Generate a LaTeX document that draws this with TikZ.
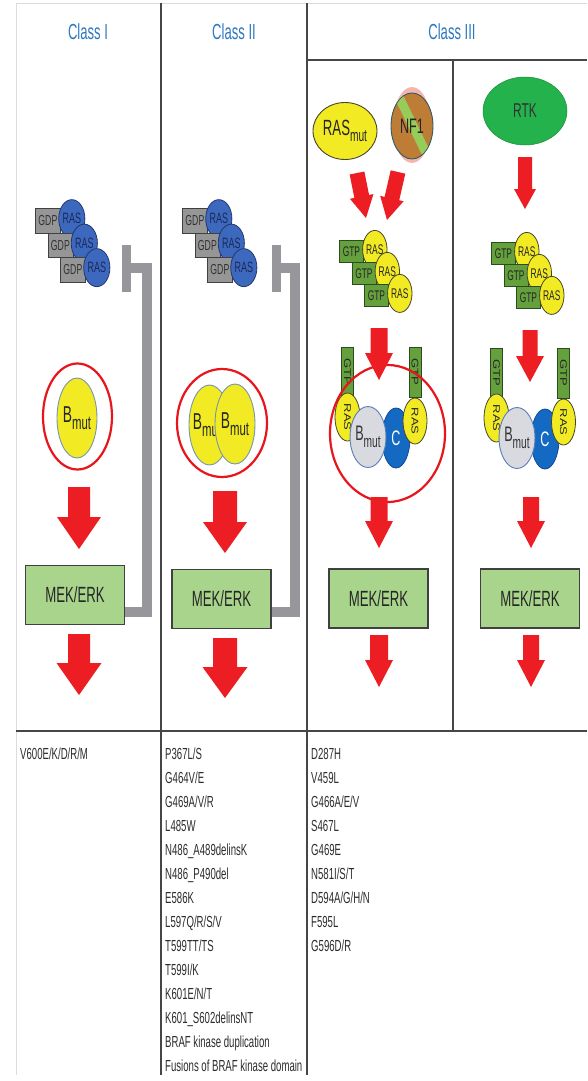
\documentclass[tikz,border=0pt]{standalone}
\usepackage{graphicx}
\usepackage{fontspec}
\setmainfont{Liberation Sans}[FakeStretch=0.6]
\newfontfamily\plainsf{Liberation Sans}
\usetikzlibrary{shapes.geometric,calc}

\definecolor{headblue}{RGB}{45,120,190}
\definecolor{linedark}{RGB}{70,70,70}
\definecolor{faintline}{RGB}{220,220,220}
\definecolor{gdpgray}{RGB}{150,150,150}
\definecolor{rasblue}{RGB}{60,105,190}
\definecolor{rasblueline}{RGB}{35,55,110}
\definecolor{rasbluetext}{RGB}{30,40,90}
\definecolor{gtpgreen}{RGB}{100,160,60}
\definecolor{gtpline}{RGB}{45,75,30}
\definecolor{rasyellow}{RGB}{242,234,35}
\definecolor{yline}{RGB}{70,70,45}
\definecolor{bmutline}{RGB}{120,150,170}
\definecolor{mekgreen}{RGB}{168,212,140}
\definecolor{arrowred}{RGB}{236,30,36}
\definecolor{ringred}{RGB}{232,22,28}
\definecolor{bargray}{RGB}{150,150,155}
\definecolor{bgray}{RGB}{216,218,224}
\definecolor{bgrayline}{RGB}{90,125,185}
\definecolor{cblue}{RGB}{20,105,195}
\definecolor{cline}{RGB}{15,75,150}
\definecolor{rtkgreen}{RGB}{35,178,75}
\definecolor{nfbrown}{RGB}{190,125,55}
\definecolor{nfline}{RGB}{50,90,100}
\definecolor{nfgreen}{RGB}{150,205,90}
\definecolor{nfhalo}{RGB}{240,150,140}
\definecolor{mutgray}{RGB}{45,45,45}

\newcommand\fs[1]{\fontsize{#1}{#1}\selectfont}
\newcommand\bmutlabel[2]{\fs{#1}B\raisebox{-0.32em}{\fs{#2}mut}}
\newcommand\vtext[1]{\scalebox{0.75}[1]{\rotatebox{-90}{\plainsf\fs{13}#1}}}

% block arrow between two named coordinates:
% #1 from, #2 to, #3 shaft half width, #4 head half width, #5 head length
\newcommand\fatarrow[5]{%
  \coordinate (fah) at ($(#2)!#5pt!(#1)$);
  \fill[arrowred] ($(#1)!#3pt!90:(#2)$) -- ($(fah)!#3pt!90:(#2)$)
    -- ($(fah)!#4pt!90:(#2)$) -- (#2) -- ($(fah)!#4pt!-90:(#2)$)
    -- ($(fah)!#3pt!-90:(#2)$) -- ($(#1)!#3pt!-90:(#2)$) -- cycle;}

% staircase of three nucleotide boxes, each with a RAS oval
% #1 name, #2 x, #3 y, #4 box style, #5 oval style, #6 box label, #7 dx, #8 dy
\newcommand\rasstack[8]{%
  \foreach \i in {0,1,2}{%
    \node[#4, anchor=north west] (#1b\i) at ({#2+#7*\i},{#3+#8*\i}) {#6};
    \node[#5] (#1r\i) at ($(#1b\i.east)+(11,-2)$) {RAS};
  }}

\begin{document}
\begin{tikzpicture}[x=1pt,y=-1pt,
  head/.style={text=headblue, font=\fs{21.8}, inner sep=0pt},
  rule/.style={draw=linedark, line width=1.1pt},
  faint/.style={draw=faintline, line width=0.8pt},
  gdp/.style={rectangle, draw=black!75, line width=0.8pt, fill=gdpgray,
    minimum width=25pt, minimum height=24.5pt, inner sep=0pt,
    font=\fs{14.5}, text=black!80},
  rasb/.style={ellipse, draw=rasblueline, line width=0.8pt, fill=rasblue,
    minimum width=24pt, minimum height=38pt, inner sep=0pt,
    font=\fs{15}, text=rasbluetext},
  gtp/.style={gdp, fill=gtpgreen, draw=gtpline, minimum width=24pt,
    minimum height=22pt, text=black!85, font=\fs{14}},
  rasy/.style={rasb, fill=rasyellow, draw=yline, minimum width=22pt,
    minimum height=38pt, text=black!85, font=\fs{14}},
  gtpv/.style={rectangle, draw=gtpline, line width=0.8pt, fill=gtpgreen,
    minimum width=12pt, minimum height=50pt, inner sep=0pt, text=black!85},
  rasv/.style={ellipse, draw=yline, line width=0.8pt, fill=rasyellow,
    minimum width=25pt, minimum height=48pt, inner sep=0pt, text=black!85},
  bmut/.style={ellipse, draw=bmutline, line width=0.9pt, fill=rasyellow,
    inner sep=0pt, text=black!85},
  bgr/.style={ellipse, draw=bgrayline, line width=0.9pt, fill=bgray,
    minimum width=31pt, minimum height=61pt, inner sep=0pt, text=black!80},
  cnode/.style={ellipse, draw=cline, line width=0.8pt, fill=cblue,
    minimum width=28pt, minimum height=60pt, inner sep=0pt,
    text=white, font=\fs{21}},
  ring/.style={ellipse, draw=ringred, line width=2.2pt, inner sep=0pt},
  mek/.style={rectangle, draw=black!75, line width=1.3pt, fill=mekgreen,
    minimum width=99pt, minimum height=59pt, font=\fs{22}, text=black!85},
  inhib/.style={draw=bargray, line width=10pt},
  mut/.style={anchor=base west, inner sep=0pt, font=\fs{16}, text=mutgray}]

\useasboundingbox (0,0) rectangle (587,1081);
\fill[white] (0,0) rectangle (587,1081);

% table frame
\draw[faint] (16,3) -- (587,3);
\draw[faint] (16,3) -- (16,1075);
\draw[rule] (161,3) -- (161,1075);
\draw[rule] (307,3) -- (307,1075);
\draw[rule] (307,60) -- (587,60);
\draw[rule] (453,60) -- (453,731);
\draw[rule, line width=1.5pt] (16,731) -- (587,731);

% column headings
\node[head] (h1) at (88,32) {Class I};
\node[head] (h2) at (234,32) {Class II};
\node[head] (h3) at (452,32) {Class III};

% ---------- Class I ----------
\rasstack{s1}{35}{208}{gdp}{rasb}{GDP}{12.5}{24.5}
\node[bmut, minimum width=40pt, minimum height=80pt] (bm1) at (77,418) {\bmutlabel{23}{19}};
\node[ring, minimum width=69pt, minimum height=106pt] (ring1) at (77.5,416.5) {};
\node[mek] (mek1) at (75,595) {MEK/ERK};
\coordinate (a1s) at (79,487); \coordinate (a1e) at (79,549);
\fatarrow{a1s}{a1e}{11}{22}{32}
\coordinate (a2s) at (79,634); \coordinate (a2e) at (79,695);
\fatarrow{a2s}{a2e}{11}{22.5}{32}
\coordinate (inh1) at (126.5,268);
\draw[inhib] ([yshift=-17pt]mek1.east) -| (147,268) -- (inh1);
\draw[inhib, line width=9pt] (126.5,245) -- (126.5,292);

% ---------- Class II (dimer: the front oval hides part of the rear label) ----------
\rasstack{s2}{182}{208}{gdp}{rasb}{GDP}{12.5}{24.5}
\node[bmut, minimum width=41pt, minimum height=80pt] (bm2a) at (209.5,425) {};
\node[inner sep=0pt, text=black!85] (bm2at) at (207,425) {\bmutlabel{23}{19}};
\node[bmut, minimum width=40pt, minimum height=80pt] (bm2b) at (235,424) {\bmutlabel{23}{19}};
\node[ring, minimum width=90pt, minimum height=108pt] (ring2) at (222,423) {};
\node[mek] (mek2) at (221.5,599) {MEK/ERK};
\coordinate (b1s) at (225,491); \coordinate (b1e) at (225,553);
\fatarrow{b1s}{b1e}{12}{22}{31}
\coordinate (b2s) at (225,638); \coordinate (b2e) at (225,698);
\fatarrow{b2s}{b2e}{12}{22.5}{31}
\coordinate (inh2) at (276.5,268);
\draw[inhib] ([yshift=-13pt]mek2.east) -| (295,268) -- (inh2);
\draw[inhib, line width=9pt] (276.5,245) -- (276.5,292);

% ---------- Class III, mutant RAS / NF1 loss ----------
\node[ellipse, draw=yline, line width=0.9pt, fill=rasyellow, minimum width=64pt,
  minimum height=57pt, inner sep=0pt, text=black!85] (rm) at (345,131)
  {\fs{22}RAS\raisebox{-0.3em}{\fs{17}mut}};
\fill[nfhalo, opacity=0.7] (412,125) ellipse [x radius=19, y radius=38];
\node[ellipse, draw=nfline, line width=0.9pt, fill=nfbrown, minimum width=42pt,
  minimum height=66pt, inner sep=0pt] (nf) at (412,126) {};
\begin{scope}
  \clip (412,126) ellipse [x radius=20.5, y radius=32.5];
  \draw[nfgreen, line width=9pt] (399,97) -- (427,155);
\end{scope}
\node[font=\fs{21}, text=black!85, inner sep=0pt] (nft) at (nf.center) {NF1};
\rasstack{s3}{339}{240}{gtp}{rasy}{GTP}{12.5}{22}
\node[gtpv] (g3l) at (347.5,372) {\vtext{GTP}};
\node[rasv] (r3l) at (347.5,417) {\vtext{RAS}};
\node[cnode] (c3) at (396,438) {C};
\node[bgr] (bg3) at (368,437) {\bmutlabel{21}{17}};
\node[gtpv] (g3r) at (415,372) {\vtext{GTP}};
\node[rasv, minimum width=24pt, minimum height=46pt] (r3r) at (415,421) {\vtext{RAS}};
\node[ring, minimum width=115pt, minimum height=137pt] (ring3) at (387.5,433.5) {};
\node[mek] (mek3) at (378.5,598.5) {MEK/ERK};
\coordinate (c1s) at (357,173); \coordinate (c1e) at (366,218);
\fatarrow{c1s}{c1e}{7.5}{12}{22}
\coordinate (c2s) at (398,172); \coordinate (c2e) at (387,220);
\fatarrow{c2s}{c2e}{7.5}{12}{22}
\coordinate (c3s) at (379,328); \coordinate (c3e) at (379,380);
\fatarrow{c3s}{c3e}{8.5}{14}{27}
\coordinate (c4s) at (379,497); \coordinate (c4e) at (379,548);
\fatarrow{c4s}{c4e}{8.5}{14}{27}
\coordinate (c5s) at (379,635); \coordinate (c5e) at (379,687);
\fatarrow{c5s}{c5e}{9}{14}{27}

% ---------- Class III, RTK driven ----------
\node[ellipse, fill=rtkgreen, draw=rtkgreen!80!black, line width=0.5pt,
  minimum width=84pt, minimum height=68pt, inner sep=0pt, font=\fs{20},
  text=black!80] (rtk) at (525,111) {RTK};
\rasstack{s4}{491}{242}{gtp}{rasy}{GTP}{12.5}{22}
\node[gtpv] (g4l) at (496.5,373) {\vtext{GTP}};
\node[rasv] (r4l) at (496.5,418) {\vtext{RAS}};
\node[cnode] (c4) at (545,439) {C};
\node[bgr] (bg4) at (517,438) {\bmutlabel{21}{17}};
\node[gtpv] (g4r) at (563.5,373) {\vtext{GTP}};
\node[rasv, minimum width=24pt, minimum height=46pt] (r4r) at (563.5,422) {\vtext{RAS}};
\node[mek] (mek4) at (530,598.5) {MEK/ERK};
\coordinate (d1s) at (525,157); \coordinate (d1e) at (525,209);
\fatarrow{d1s}{d1e}{7}{11}{20}
\coordinate (d2s) at (530,330); \coordinate (d2e) at (530,382);
\fatarrow{d2s}{d2e}{7.5}{14}{26}
\coordinate (d3s) at (531,497); \coordinate (d3e) at (531,548);
\fatarrow{d3s}{d3e}{8}{14}{27}
\coordinate (d4s) at (531,635); \coordinate (d4e) at (531,687);
\fatarrow{d4s}{d4e}{8}{14}{27}

% ---------- mutation lists ----------
\node[mut] (m1-0) at (20,759) {V600E/K/D/R/M};
\foreach [count=\k from 0] \m in {P367L/S,G464V/E,G469A/V/R,L485W,
    N486\_A489delinsK,N486\_P490del,E586K,L597Q/R/S/V,T599TT/TS,T599I/K,
    K601E/N/T,K601\_S602delinsNT,BRAF kinase duplication,
    Fusions of BRAF kinase domain}
  \node[mut] (m2-\k) at (165,{759+24*\k}) {\m};
\foreach [count=\k from 0] \m in {D287H,V459L,G466A/E/V,S467L,G469E,
    N581I/S/T,D594A/G/H/N,F595L,G596D/R}
  \node[mut] (m3-\k) at (311,{759+24*\k}) {\m};

\end{tikzpicture}
\end{document}
